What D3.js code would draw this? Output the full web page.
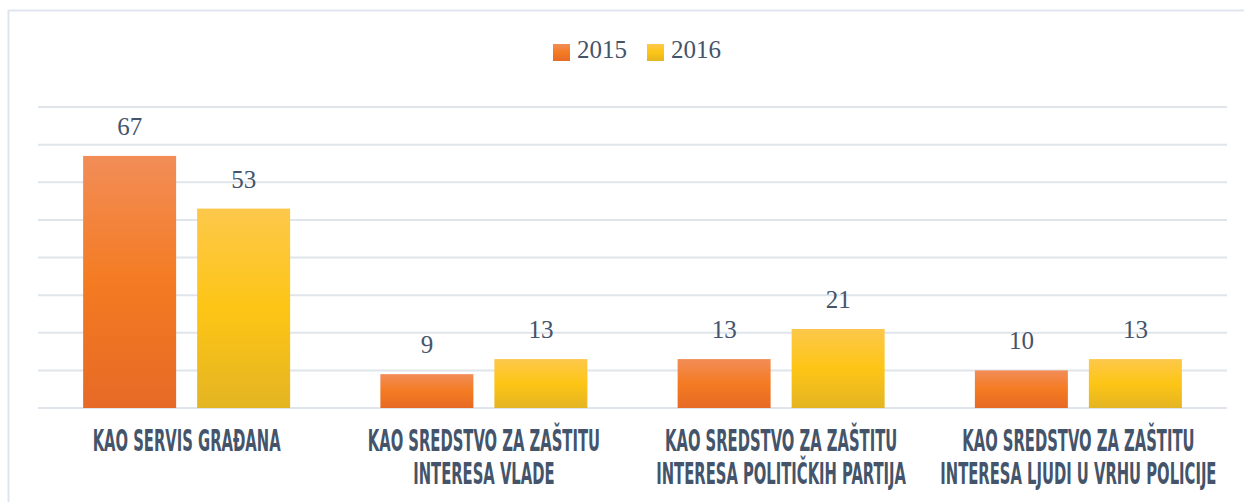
<!DOCTYPE html>
<html>
<head>
<meta charset="utf-8">
<script src="https://cdn.jsdelivr.net/npm/d3@7"></script>
<style>
  body { margin: 0; background: #fff; }
</style>
</head>
<body>
<div id="root"></div>
<script>
// data
const categories = [
  ["KAO SERVIS GRAĐANA"],
  ["KAO SREDSTVO ZA ZAŠTITU", "INTERESA VLADE"],
  ["KAO SREDSTVO ZA ZAŠTITU", "INTERESA POLITIČKIH PARTIJA"],
  ["KAO SREDSTVO ZA ZAŠTITU", "INTERESA LJUDI U VRHU POLICIJE"]
];
const seriesNames = ["2015", "2016"];
const values2015 = [67, 9, 13, 10];
const values2016 = [53, 13, 21, 13];
const yTicks = [0, 10, 20, 30, 40, 50, 60, 70, 80];

const width = 1244, height = 502;
const margin = { top: 107, right: 17, bottom: 94, left: 38 };
const innerW = width - margin.left - margin.right;
const innerH = height - margin.top - margin.bottom;

const svg = d3.select("#root")
    .append("svg")
    .attr("width", width)
    .attr("height", height);

// gradients for bars
const defs = svg.append("defs");
function grad(id, stops) {
    const g = defs.append("linearGradient").attr("id", id)
        .attr("x1", 0).attr("y1", 0).attr("x2", 0).attr("y2", 1);
    stops.forEach(s => g.append("stop").attr("offset", s[0]).attr("stop-color", s[1]));
}
grad("g2015", [[0, "#f28d58"], [0.5, "#f47b22"], [1, "#e66a26"]]);
grad("g2016", [[0, "#fdc84b"], [0.5, "#fdc515"], [1, "#e4b523"]]);
const fills = ["url(#g2015)", "url(#g2016)"];

// outer frame
svg.append("path")
    .attr("d", "M8.5," + height + " V10.5 H" + width)
    .attr("fill", "none")
    .attr("stroke", "#dfe5ee")
    .attr("stroke-width", 2);

const graph = svg.append("g")
    .attr("transform", "translate(" + margin.left + "," + margin.top + ")");

const x0 = d3.scaleBand()
    .domain(d3.range(categories.length))
    .range([0, innerW])
    .paddingInner(0)
    .paddingOuter(0);

const barW = 93, gap = 21;
const x1 = d3.scaleOrdinal()
    .domain([0, 1])
    .range([x0.bandwidth() / 2 - gap / 2 - barW, x0.bandwidth() / 2 + gap / 2]);

const y = d3.scaleLinear()
    .domain([0, 80])
    .range([innerH, 0]);

// gridlines
graph.append("g")
    .selectAll("line")
    .data(yTicks)
    .join("line")
    .attr("x1", 0)
    .attr("x2", innerW)
    .attr("y1", d => y(d))
    .attr("y2", d => y(d))
    .attr("stroke", "#e0e5eb")
    .attr("stroke-width", 2);

const rows = categories.map((c, i) => ({ i, vals: [values2015[i], values2016[i]] }));

const groups = graph.selectAll(".grp")
    .data(rows)
    .join("g")
    .attr("class", "grp")
    .attr("transform", d => "translate(" + x0(d.i) + ",0)");

groups.selectAll("rect")
    .data(d => d.vals.map((v, s) => ({ v, s })))
    .join("rect")
    .attr("x", d => x1(d.s))
    .attr("width", barW)
    .attr("y", d => y(d.v))
    .attr("height", d => y(0) - y(d.v))
    .attr("fill", d => fills[d.s]);

groups.selectAll("text.val")
    .data(d => d.vals.map((v, s) => ({ v, s })))
    .join("text")
    .attr("class", "val")
    .attr("x", d => x1(d.s) + barW / 2)
    .attr("y", d => y(d.v) - 21)
    .attr("text-anchor", "middle")
    .attr("font-family", "'Liberation Serif', 'DejaVu Serif', serif")
    .attr("font-size", 25)
    .attr("fill", "#44546a")
    .text(d => d.v);

// category labels (condensed look via horizontal squeeze)
const labels = graph.append("g")
    .selectAll("text")
    .data(categories)
    .join("text")
    .attr("transform", (d, i) => "translate(" + (x0(i) + x0.bandwidth() / 2) + "," + (innerH + 43) + ") scale(0.53,1)")
    .attr("text-anchor", "middle")
    .attr("font-family", "'Liberation Sans Narrow', 'DejaVu Sans Condensed', sans-serif")
    .attr("font-weight", "bold")
    .attr("font-size", 31)
    .attr("fill", "#44546a");

labels.selectAll("tspan")
    .data(d => d)
    .join("tspan")
    .attr("x", 0)
    .attr("dy", (d, j) => j === 0 ? 0 : 33)
    .text(d => d);

// legend
const legend = svg.append("g");
const legX = [553, 647];
seriesNames.forEach((name, s) => {
    legend.append("rect")
        .attr("x", legX[s])
        .attr("y", 44)
        .attr("width", 17)
        .attr("height", 17)
        .attr("fill", fills[s]);
    legend.append("text")
        .attr("x", legX[s] + 24)
        .attr("y", 58)
        .attr("font-family", "'Liberation Serif', 'DejaVu Serif', serif")
        .attr("font-size", 25)
        .attr("fill", "#44546a")
        .text(name);
});
</script>
</body>
</html>
